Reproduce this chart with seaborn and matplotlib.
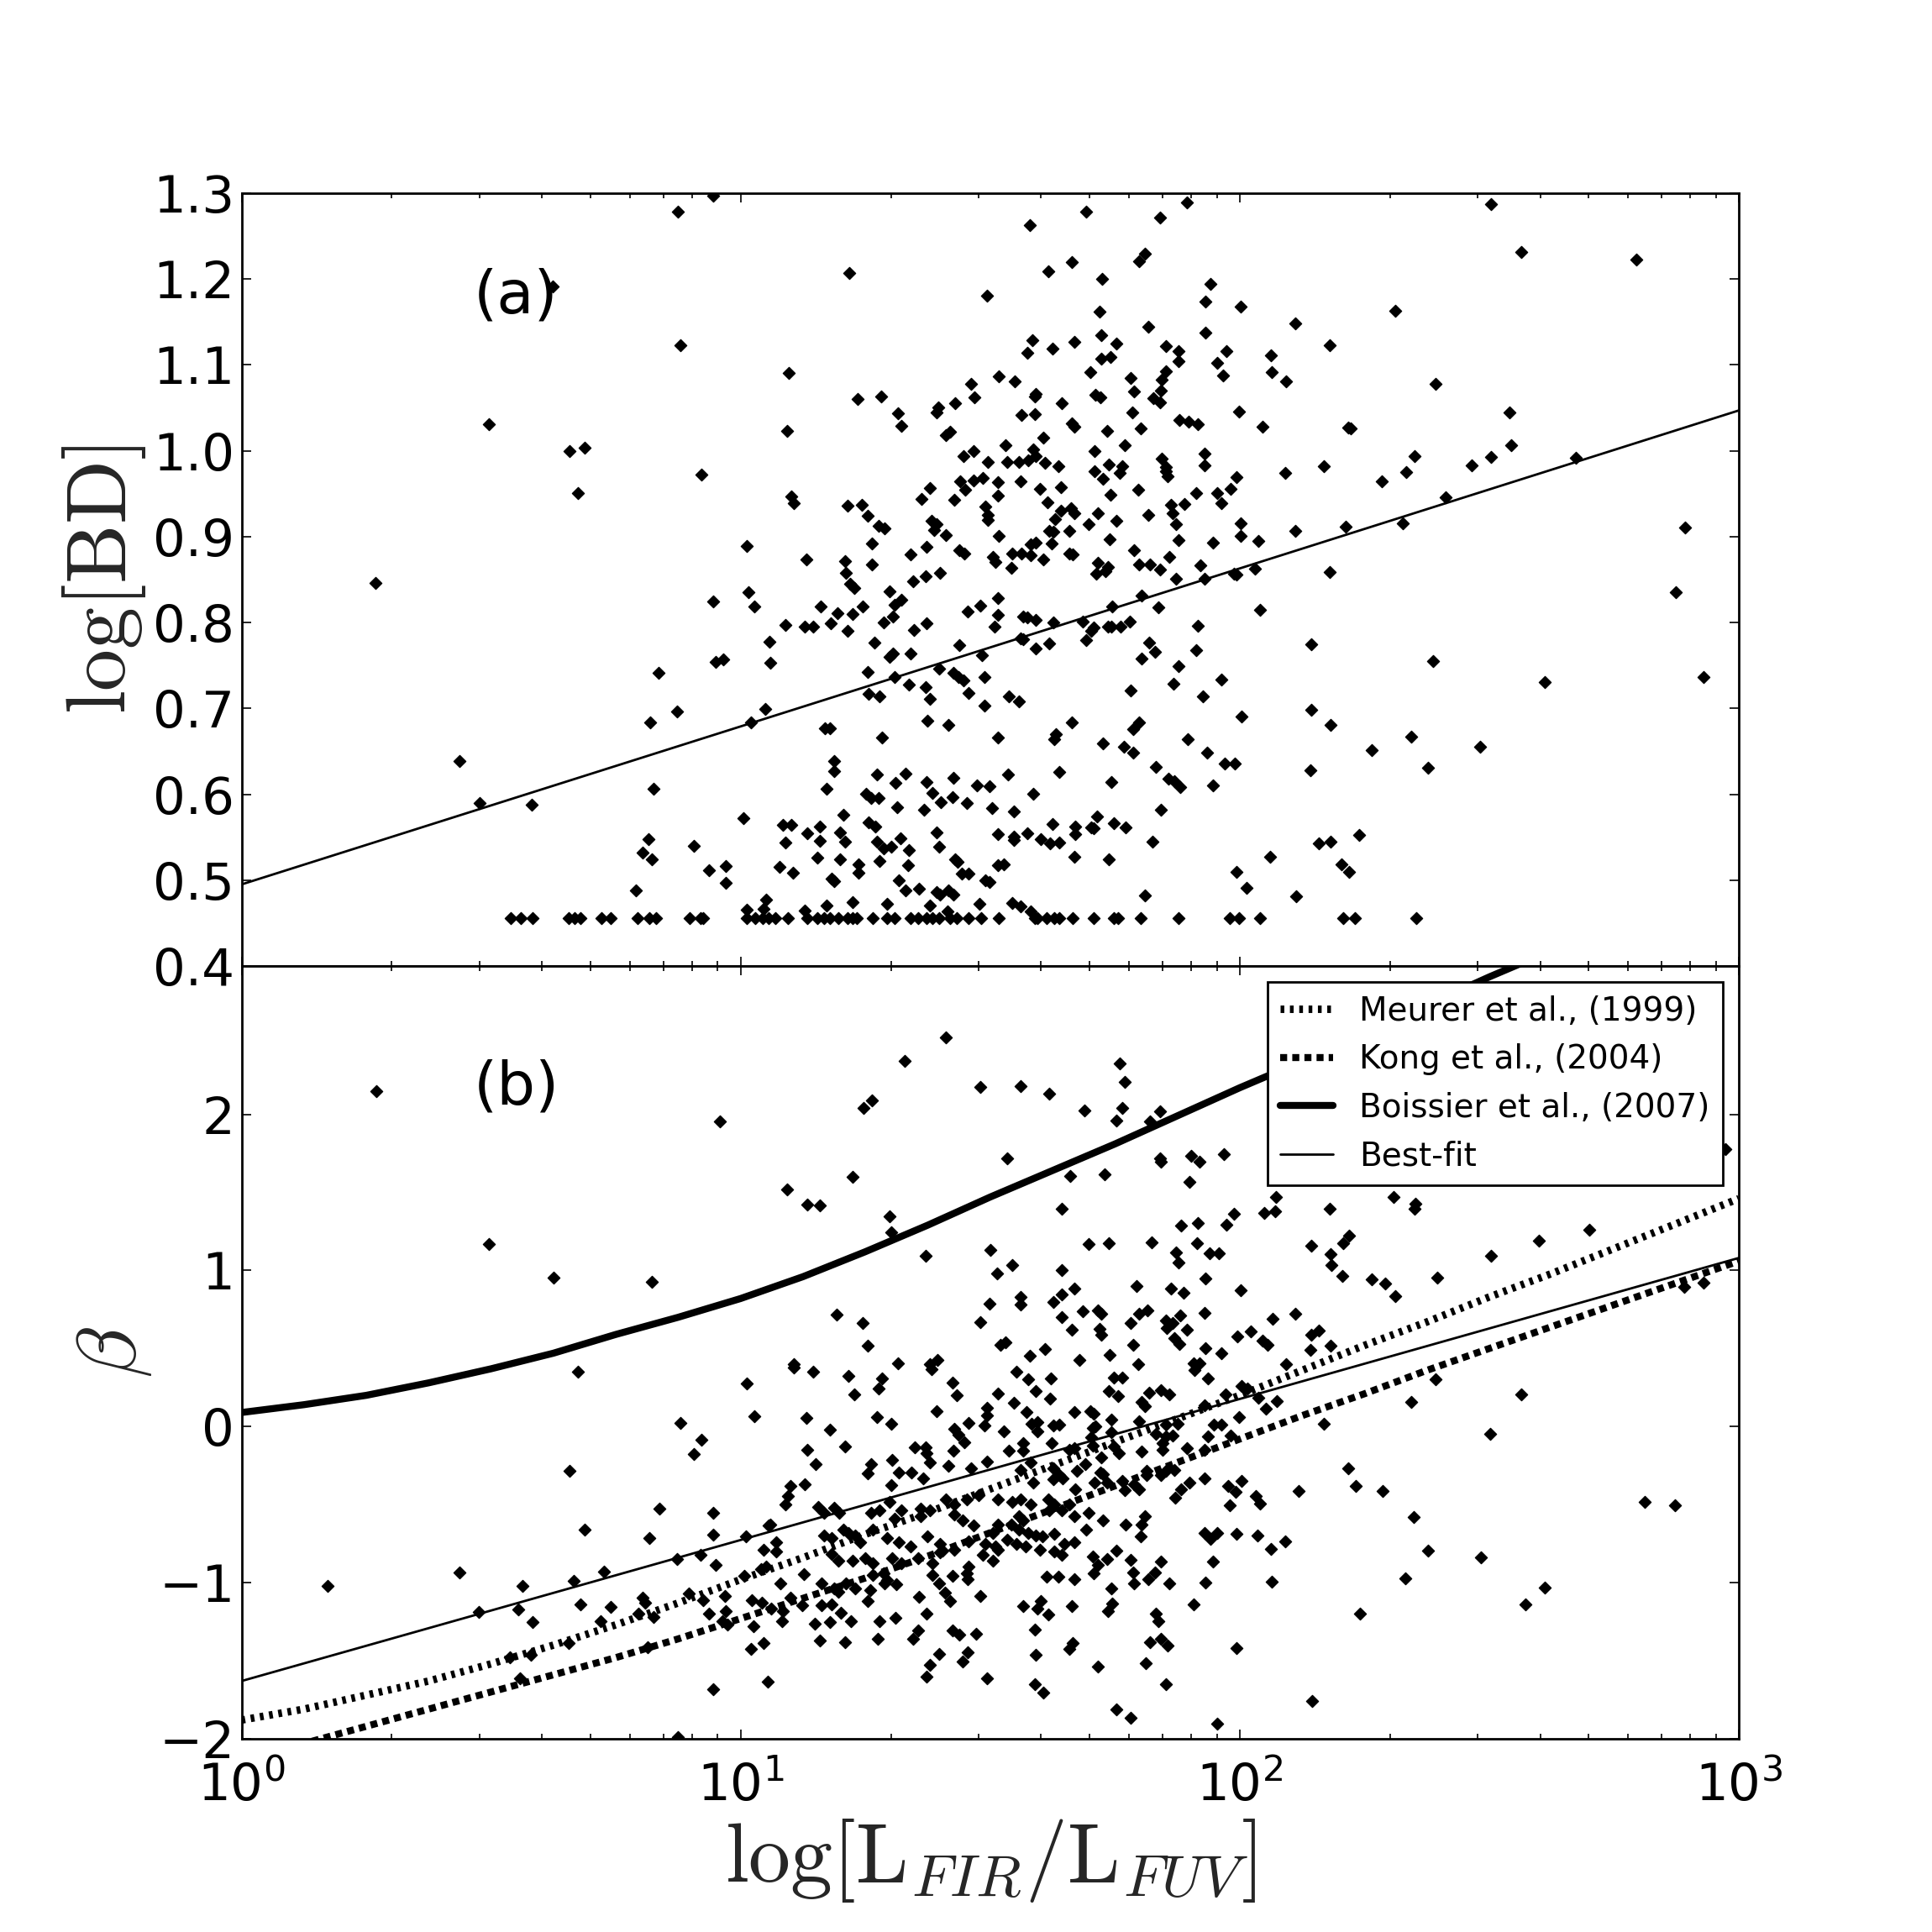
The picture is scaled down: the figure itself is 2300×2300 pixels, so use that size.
import numpy as np
import matplotlib
matplotlib.use('Agg')
import matplotlib.pyplot as plt
import seaborn as sns

# ---- panel (a): log[BD] vs log10(L_FIR/L_FUV) ----
bd_upper = [
    (0.875, 1.278), (0.945, 1.297), (1.217, 1.207), (1.494, 1.181), (0.624, 1.191), (0.880, 1.123),
    (1.096, 1.091), (1.517, 1.087), (1.462, 1.078), (1.469, 1.062), (1.235, 1.060), (1.282, 1.063),
    (1.430, 1.055), (1.396, 1.051), (1.392, 1.045), (1.316, 1.044), (1.322, 1.029), (1.419, 1.022),
    (1.411, 1.018), (0.495, 1.031), (1.093, 1.023), (0.657, 1.000), (0.688, 1.004), (1.467, 1.000),
    (1.446, 0.994), (1.496, 0.987), (0.921, 0.972), (0.674, 0.951), (1.101, 0.947), (1.106, 0.939),
    (1.214, 0.936), (1.243, 0.937), (1.254, 0.924), (1.276, 0.913), (1.288, 0.910), (1.380, 0.957),
    (1.362, 0.944), (1.440, 0.964), (1.450, 0.955), (1.428, 0.943), (1.467, 0.965), (1.485, 0.968),
    (1.515, 0.963), (1.515, 0.948), (1.491, 0.935), (1.496, 0.925), (1.496, 0.919), (1.382, 0.918),
    (1.392, 0.915), (1.387, 0.908), (1.412, 0.902), (1.517, 0.901), (1.013, 0.889), (1.263, 0.892),
    (1.373, 0.888), (1.438, 0.884), (1.448, 0.880), (1.506, 0.876), (1.511, 0.871), (1.131, 0.873),
    (1.209, 0.872), (1.263, 0.868), (1.341, 0.879), (1.211, 0.858), (1.370, 0.854), (1.399, 0.858),
    (1.346, 0.848), (1.220, 0.845), (0.268, 0.846),
    (1.895, 1.289), (1.693, 1.278), (1.841, 1.272), (1.579, 1.263), (2.503, 1.287), (2.564, 1.232),
    (2.794, 1.223), (1.663, 1.220), (1.799, 1.221), (1.810, 1.230), (1.616, 1.209), (1.725, 1.200),
    (1.942, 1.194), (1.932, 1.174), (2.002, 1.168), (2.311, 1.163), (1.720, 1.162), (1.816, 1.144),
    (2.112, 1.148), (1.932, 1.138), (1.723, 1.135), (1.584, 1.129), (1.668, 1.127), (1.753, 1.125),
    (1.625, 1.119), (1.575, 1.114), (2.180, 1.123), (1.853, 1.122), (1.878, 1.116), (1.974, 1.116),
    (1.722, 1.107), (1.741, 1.109), (1.878, 1.104), (1.954, 1.102), (2.063, 1.111), (1.700, 1.092),
    (1.852, 1.093), (2.065, 1.092), (1.966, 1.088), (2.093, 1.081), (1.782, 1.085), (1.843, 1.083),
    (1.549, 1.081), (1.789, 1.069), (1.842, 1.070), (1.711, 1.065), (1.721, 1.062), (1.592, 1.066),
    (1.590, 1.063), (1.827, 1.061), (1.840, 1.056), (1.644, 1.055), (2.393, 1.078), (1.785, 1.045),
    (1.563, 1.042), (1.590, 1.043), (1.999, 1.046), (2.540, 1.045), (1.879, 1.036), (1.897, 1.034),
    (1.916, 1.031), (1.663, 1.032), (1.668, 1.028), (1.802, 1.026), (2.045, 1.028), (2.217, 1.027),
    (2.223, 1.026), (1.735, 1.023), (1.607, 1.015), (1.531, 1.007), (1.770, 1.007), (2.544, 1.007),
    (1.587, 1.002), (1.592, 0.994), (1.709, 1.000), (1.929, 0.997), (1.844, 0.991), (1.534, 0.987),
    (1.557, 0.987), (1.576, 0.989), (1.610, 0.986), (1.637, 0.982), (1.737, 0.984), (1.764, 0.982),
    (1.929, 0.983), (1.852, 0.981), (1.709, 0.976), (1.759, 0.974), (1.853, 0.976), (1.855, 0.970),
    (2.169, 0.982), (2.092, 0.974), (2.503, 0.993), (2.351, 0.994), (2.464, 0.983), (2.333, 0.975),
    (2.673, 0.992), (1.726, 0.967), (1.994, 0.969), (1.561, 0.964), (1.600, 0.956), (1.642, 0.958),
    (1.797, 0.955), (2.285, 0.964), (1.741, 0.949), (1.913, 0.951), (1.955, 0.951), (1.982, 0.956),
    (2.413, 0.946), (1.615, 0.940), (1.889, 0.938), (1.964, 0.939), (1.863, 0.937), (1.662, 0.933),
    (1.668, 0.927), (1.642, 0.930), (1.716, 0.927), (1.816, 0.925), (1.865, 0.927), (1.630, 0.920),
    (1.697, 0.915), (1.753, 0.918), (1.873, 0.915), (2.002, 0.916), (2.326, 0.916), (2.212, 0.912),
    (1.619, 0.907), (1.627, 0.906), (1.659, 0.907), (2.112, 0.907), (2.893, 0.911), (1.740, 0.897),
    (1.877, 0.896), (2.002, 0.901), (2.038, 0.895), (1.946, 0.893), (1.623, 0.892), (1.581, 0.891),
    (1.592, 0.893), (1.789, 0.884), (1.545, 0.880), (1.562, 0.880), (1.582, 0.878), (1.607, 0.873),
    (1.659, 0.880), (1.666, 0.879), (1.859, 0.876), (1.542, 0.864), (1.716, 0.870), (1.736, 0.865),
    (1.799, 0.868), (1.821, 0.868), (1.841, 0.862), (1.921, 0.867), (1.712, 0.857), (1.731, 0.860),
    (1.872, 0.851), (1.929, 0.851), (1.988, 0.857), (1.994, 0.856), (2.030, 0.863), (2.181, 0.859),
]

bd_lower = [
    (0.945, 0.825), (1.016, 0.835), (1.027, 0.819), (1.160, 0.819), (1.194, 0.811), (1.224, 0.810),
    (1.227, 0.840), (1.245, 0.819), (1.298, 0.836), (1.322, 0.827), (1.309, 0.821), (1.306, 0.807),
    (1.286, 0.800), (1.373, 0.799), (1.348, 0.791), (1.455, 0.813), (1.480, 0.820), (1.515, 0.828),
    (1.515, 0.809), (1.508, 0.795), (1.089, 0.797), (1.129, 0.795), (1.146, 0.795), (1.180, 0.799),
    (1.214, 0.790), (1.057, 0.778), (1.269, 0.777), (1.438, 0.774), (1.298, 0.760), (1.305, 0.764),
    (1.341, 0.764), (1.484, 0.762), (0.950, 0.754), (0.966, 0.757), (1.059, 0.753), (0.836, 0.741),
    (1.255, 0.742), (1.308, 0.737), (1.397, 0.746), (1.427, 0.741), (1.436, 0.737), (1.446, 0.733),
    (1.488, 0.737), (1.338, 0.728), (1.256, 0.717), (1.278, 0.714), (1.370, 0.725), (1.380, 0.711),
    (1.457, 0.718), (1.488, 0.703), (1.050, 0.699), (0.872, 0.696), (0.818, 0.684), (1.020, 0.684),
    (1.375, 0.686), (1.417, 0.681), (1.169, 0.677), (1.179, 0.677), (1.284, 0.666), (1.515, 0.666),
    (0.436, 0.639), (1.188, 0.639), (1.188, 0.627), (1.274, 0.623), (1.330, 0.624), (1.427, 0.619),
    (1.311, 0.613), (1.373, 0.614), (1.473, 0.610), (1.498, 0.609), (0.825, 0.606), (1.173, 0.606),
    (1.252, 0.601), (1.261, 0.596), (1.277, 0.596), (1.384, 0.602), (1.424, 0.597), (0.477, 0.590),
    (0.581, 0.588), (1.401, 0.591), (1.453, 0.590), (1.314, 0.585), (1.504, 0.584), (1.368, 0.582),
    (1.206, 0.576), (1.005, 0.572), (1.256, 0.567), (1.270, 0.562), (1.084, 0.564), (1.102, 0.564),
    (1.158, 0.562), (1.134, 0.555), (1.200, 0.556), (1.392, 0.556), (1.515, 0.554), (0.815, 0.548),
    (1.158, 0.546), (1.274, 0.545), (1.321, 0.549), (1.089, 0.544), (1.209, 0.545), (0.907, 0.540),
    (1.287, 0.537), (1.301, 0.539), (1.397, 0.539), (1.338, 0.535), (0.804, 0.532), (0.823, 0.524),
    (1.153, 0.526), (1.199, 0.524), (1.279, 0.522), (1.430, 0.524), (1.435, 0.521), (1.237, 0.518),
    (1.335, 0.517), (1.515, 0.517), (0.971, 0.516), (1.078, 0.515), (0.936, 0.512), (1.237, 0.509),
    (1.105, 0.509), (1.443, 0.508), (1.457, 0.508), (1.182, 0.502), (1.188, 0.499), (1.491, 0.500),
    (1.498, 0.498), (0.971, 0.497), (1.317, 0.500), (0.790, 0.488), (1.330, 0.488), (1.358, 0.490),
    (1.392, 0.486), (1.399, 0.483), (1.416, 0.488), (1.427, 0.483), (1.051, 0.477), (1.046, 0.467),
    (1.013, 0.466), (1.173, 0.470), (1.225, 0.474), (1.293, 0.472), (1.380, 0.470), (1.478, 0.472),
    (1.129, 0.465), (1.414, 0.464),
    (1.803, 0.831), (1.745, 0.819), (1.837, 0.818), (2.040, 0.815), (2.873, 0.835), (1.566, 0.807),
    (1.574, 0.806), (1.592, 0.803), (1.626, 0.800), (1.685, 0.801), (1.707, 0.794), (1.702, 0.790),
    (1.736, 0.795), (1.743, 0.795), (1.762, 0.795), (1.780, 0.801), (1.916, 0.796), (1.561, 0.782),
    (1.566, 0.781), (1.693, 0.780), (1.619, 0.776), (1.591, 0.770), (1.818, 0.777), (2.144, 0.775),
    (1.830, 0.766), (1.912, 0.768), (1.803, 0.758), (2.387, 0.755), (1.878, 0.749), (1.963, 0.734),
    (2.612, 0.731), (2.930, 0.737), (1.868, 0.729), (1.782, 0.721), (1.537, 0.714), (1.557, 0.708),
    (1.927, 0.714), (2.144, 0.698), (2.003, 0.691), (1.663, 0.684), (1.799, 0.684), (1.787, 0.676),
    (2.182, 0.681), (1.632, 0.670), (1.628, 0.664), (1.896, 0.664), (2.344, 0.667), (2.482, 0.655),
    (1.726, 0.659), (1.768, 0.655), (1.787, 0.648), (2.264, 0.651), (1.935, 0.648), (1.970, 0.636),
    (1.991, 0.636), (1.832, 0.632), (2.142, 0.628), (2.378, 0.631), (1.536, 0.623), (1.639, 0.626),
    (1.743, 0.614), (1.858, 0.618), (1.869, 0.615), (1.881, 0.608), (1.946, 0.610), (1.587, 0.601),
    (1.548, 0.580), (1.842, 0.582), (1.714, 0.574), (1.625, 0.565), (1.671, 0.562), (1.703, 0.561),
    (1.707, 0.560), (1.747, 0.566), (1.771, 0.561), (1.548, 0.551), (1.548, 0.547), (1.575, 0.555),
    (1.602, 0.548), (1.620, 0.543), (1.639, 0.544), (1.670, 0.554), (1.825, 0.545), (2.240, 0.553),
    (2.159, 0.543), (2.182, 0.545), (1.527, 0.518), (1.668, 0.527), (1.737, 0.524), (2.061, 0.527),
    (2.204, 0.518), (2.219, 0.510), (1.993, 0.510), (2.014, 0.491), (2.113, 0.481), (1.810, 0.482),
    (1.544, 0.473), (1.561, 0.469), (1.581, 0.464),
]

# the row of objects sitting on the lower limit of log[BD]
bd_floor_logx = [
    0.539, 0.560, 0.584, 0.655, 0.667, 0.679, 0.722, 0.739, 0.793, 0.817, 0.831, 0.898, 0.920,
    0.925, 1.013, 1.029, 1.044, 1.056, 1.069, 1.095, 1.133, 1.153, 1.167, 1.179, 1.196, 1.214,
    1.225, 1.233, 1.264, 1.293, 1.308, 1.341, 1.356, 1.372, 1.385, 1.397, 1.419, 1.433, 1.457,
    1.482, 1.517, 1.589, 1.595, 1.613, 1.629, 1.639, 1.666, 1.707, 1.748, 1.756, 1.802, 1.878,
    1.980, 1.999, 2.040, 2.208, 2.231, 2.354,
]
bd_floor_val = 0.456

# ---- panel (b): UV slope beta ----
beta_upper = [
    (0.270, 2.146), (1.412, 2.493), (1.328, 2.344), (1.481, 2.177), (1.263, 2.087), (1.246, 2.042),
    (0.959, 1.955), (1.224, 1.599), (1.093, 1.519), (1.133, 1.420), (1.159, 1.414), (1.298, 1.348),
    (1.301, 1.246), (1.501, 1.133), (1.370, 1.093), (0.495, 1.169), (0.625, 0.953), (0.823, 0.926),
    (1.514, 0.980), (1.498, 0.788), (1.193, 0.717), (1.244, 0.663), (1.481, 0.670), (1.255, 0.517),
    (1.520, 0.526), (1.316, 0.406), (1.395, 0.424), (1.380, 0.397), (1.107, 0.397),
    (1.760, 2.326), (1.770, 2.209), (1.561, 2.182), (1.619, 2.132), (1.689, 2.024), (1.765, 2.039),
    (1.753, 1.958), (1.821, 1.953), (1.840, 2.021), (1.534, 1.719), (1.840, 1.716), (1.842, 1.698),
    (1.902, 1.734), (1.919, 1.698), (1.969, 1.743), (1.661, 1.605), (1.729, 1.617), (1.900, 1.567),
    (2.587, 1.590), (2.973, 1.779), (1.644, 1.397), (2.072, 1.470), (2.308, 1.470), (2.352, 1.429),
    (2.351, 1.397), (2.180, 1.393), (2.049, 1.370), (2.071, 1.379), (1.989, 1.361), (1.973, 1.294),
    (1.882, 1.285), (1.916, 1.303), (1.697, 1.169), (1.737, 1.174), (1.824, 1.181), (1.915, 1.172),
    (1.873, 1.115), (1.878, 1.052), (1.939, 1.109), (1.959, 1.109), (2.143, 1.160), (2.219, 1.222),
    (2.207, 1.172), (2.182, 1.106), (2.183, 1.034), (2.700, 1.262), (2.600, 1.192), (2.504, 1.092),
    (1.544, 1.034), (1.643, 1.002), (1.932, 0.951), (2.206, 0.962), (2.265, 0.941), (2.292, 0.918),
    (2.396, 0.953), (2.311, 0.833), (1.793, 0.900), (1.863, 0.882), (1.888, 0.858), (2.002, 0.873),
    (1.561, 0.828), (1.561, 0.779), (1.643, 0.844), (1.668, 0.882), (1.626, 0.797), (2.891, 0.896),
    (2.930, 0.923), (1.643, 0.702), (1.685, 0.738), (1.716, 0.742), (1.722, 0.720), (1.799, 0.724),
    (1.815, 0.743), (1.929, 0.726), (2.112, 0.724), (2.066, 0.690), (1.781, 0.666), (1.852, 0.679),
    (1.866, 0.661), (1.881, 0.711), (1.663, 0.618), (1.720, 0.625), (1.722, 0.586), (1.854, 0.631),
    (1.894, 0.618), (2.022, 0.607), (1.995, 0.577), (2.144, 0.586), (2.158, 0.613), (1.531, 0.541),
    (1.869, 0.568), (1.879, 0.528), (2.045, 0.550), (2.055, 0.523), (1.786, 0.523), (2.182, 0.519),
    (1.610, 0.496), (1.579, 0.451), (1.740, 0.460), (1.931, 0.500), (1.963, 0.469), (2.142, 0.491),
    (1.678, 0.424), (1.797, 0.401), (1.908, 0.406), (1.919, 0.406), (2.093, 0.397),
]

beta_lower = [
    (0.674, 0.352), (1.013, 0.275), (1.027, 0.065), (1.131, 0.056), (1.146, 0.352), (1.107, 0.379),
    (1.216, 0.325), (1.283, 0.307), (1.277, 0.244), (1.228, 0.205), (1.382, 0.370), (1.424, 0.280),
    (1.433, 0.200), (1.393, 0.096), (1.493, 0.119), (1.493, 0.074), (1.515, 0.209), (1.274, 0.060),
    (1.301, 0.020), (1.457, 0.024), (1.488, 0.006), (0.880, 0.024), (0.921, -0.084), (0.906, -0.177),
    (1.179, -0.019), (1.209, -0.127), (1.134, -0.150), (1.150, -0.240), (1.428, -0.016), (1.436, -0.052),
    (1.448, -0.102), (1.349, -0.132), (1.370, -0.132), (1.373, -0.168), (1.426, -0.156), (1.380, -0.231),
    (1.417, -0.249), (1.462, -0.267), (1.493, -0.227), (1.303, -0.213), (1.261, -0.240), (1.254, -0.299),
    (1.317, -0.294), (1.343, -0.294), (1.366, -0.330), (1.301, -0.375), (1.128, -0.371), (1.100, -0.383),
    (0.657, -0.285), (1.095, -0.446), (1.090, -0.497), (0.837, -0.527), (0.945, -0.550), (1.155, -0.514),
    (1.187, -0.518), (1.298, -0.482), (1.322, -0.536), (1.361, -0.527), (1.380, -0.536), (1.412, -0.464),
    (1.428, -0.500), (1.454, -0.464), (1.477, -0.437), (1.515, -0.464), (1.059, -0.626), (1.167, -0.554),
    (1.198, -0.554), (1.261, -0.554), (1.279, -0.536), (1.308, -0.590), (1.361, -0.572), (1.428, -0.563),
    (1.445, -0.599), (1.467, -0.635), (1.506, -0.680), (0.687, -0.662), (0.817, -0.712), (0.945, -0.694),
    (1.011, -0.706), (1.167, -0.697), (1.182, -0.715), (1.206, -0.662), (1.230, -0.697), (1.216, -0.680),
    (1.240, -0.742), (1.264, -0.662), (1.293, -0.715), (1.317, -0.742), (1.341, -0.769), (1.375, -0.706),
    (1.399, -0.751), (1.404, -0.796), (1.428, -0.787), (1.457, -0.733), (1.491, -0.751), (1.511, -0.769),
    (1.046, -0.787), (1.071, -0.742), (1.071, -0.802), (0.919, -0.819), (0.950, -0.886), (0.873, -0.846),
    (1.182, -0.814), (1.196, -0.859), (1.225, -0.859), (1.249, -0.841), (1.264, -0.877), (1.303, -0.841),
    (1.322, -0.877), (1.356, -0.841), (1.385, -0.877), (1.399, -0.805), (1.457, -0.895), (1.506, -0.859),
    (1.486, -0.823), (1.515, -0.787), (1.041, -0.913), (1.051, -0.895), (1.008, -0.958), (1.127, -0.945),
    (1.080, -1.002), (1.162, -1.002), (1.187, -1.038), (1.211, -1.002), (1.230, -1.038), (1.264, -0.949),
    (1.286, -0.940), (1.293, -0.985), (1.312, -1.011), (1.385, -0.949), (1.397, -1.002), (1.424, -0.958),
    (1.455, -0.976), (1.453, -0.940), (0.726, -0.927), (0.665, -0.988), (0.437, -0.936), (0.173, -1.020),
    (0.563, -1.020), (0.476, -1.185), (0.555, -1.173), (0.584, -1.250), (0.679, -1.137), (0.739, -1.155),
    (0.720, -1.245), (0.803, -1.096), (0.809, -1.128), (0.795, -1.196), (0.825, -1.218), (0.896, -1.071),
    (0.925, -1.110), (0.969, -1.083), (0.971, -1.182), (0.936, -1.200), (0.964, -1.245), (0.974, -1.268),
    (1.022, -1.110), (1.043, -1.128), (1.061, -1.164), (1.085, -1.182), (1.100, -1.098), (1.124, -1.146),
    (1.162, -1.146), (1.182, -1.137), (1.196, -1.056), (1.201, -1.191), (1.254, -1.119), (1.259, -1.047),
    (1.288, -1.002), (1.358, -1.092), (1.409, -1.065), (1.419, -1.119), (1.481, -1.083), (1.373, -1.200),
    (1.310, -1.227), (1.279, -1.245), (1.221, -1.245), (1.179, -1.254), (1.148, -1.263), (1.083, -1.245),
    (1.025, -1.280), (1.158, -1.370), (1.209, -1.379), (1.275, -1.361), (1.346, -1.361), (1.356, -1.307),
    (1.424, -1.307), (1.438, -1.334), (1.472, -1.325), (1.046, -1.388), (1.020, -1.424), (0.814, -1.415),
    (0.655, -1.388), (0.537, -1.478), (0.580, -1.460), (1.397, -1.455), (1.455, -1.447), (1.380, -1.526),
    (1.445, -1.505), (1.373, -1.603), (1.493, -1.612), (0.558, -1.612), (1.055, -1.636), (0.945, -1.684),
    (0.875, -1.989), (1.056, -0.634), (1.515, -0.626),
    (1.552, 0.352), (1.576, 0.304), (1.622, 0.307), (1.592, 0.227), (1.620, 0.178), (1.747, 0.316),
    (1.765, 0.316), (1.737, 0.227), (1.757, 0.194), (1.818, 0.218), (1.842, 0.232), (1.859, 0.205),
    (1.910, 0.361), (1.936, 0.307), (1.803, 0.160), (1.810, 0.128), (1.547, 0.151), (1.573, 0.092),
    (1.668, 0.092), (1.700, 0.096), (1.707, 0.083), (1.743, 0.047), (1.798, 0.033), (1.583, 0.020),
    (1.595, 0.029), (1.627, 0.006), (1.639, 0.011), (1.705, -0.007), (1.711, 0.002), (1.528, -0.030),
    (1.595, -0.030), (1.743, -0.037), (1.832, -0.048), (1.852, 0.011), (1.876, 0.015), (1.948, 0.011),
    (1.963, 0.011), (1.999, 0.060), (1.971, 0.205), (2.003, 0.262), (2.016, 0.244), (2.037, 0.182),
    (2.052, 0.114), (2.074, 0.164), (1.929, 0.137), (2.169, 0.015), (2.343, 0.158), (2.393, 0.304),
    (2.564, 0.205), (2.502, -0.048), (1.624, -0.105), (1.566, -0.105), (1.537, -0.156), (1.566, -0.156),
    (1.702, -0.066), (1.705, -0.123), (1.747, -0.127), (1.845, -0.105), (1.852, -0.061), (1.866, -0.055),
    (1.895, -0.141), (1.936, -0.061), (1.981, -0.055), (1.803, -0.159), (1.845, -0.150), (1.929, -0.150),
    (1.658, -0.150), (1.668, -0.141), (1.723, -0.195), (1.758, -0.168), (1.581, -0.231), (1.561, -0.276),
    (1.627, -0.267), (1.639, -0.312), (1.673, -0.285), (1.690, -0.240), (1.721, -0.294), (1.726, -0.303),
    (1.813, -0.285), (1.853, -0.285), (1.869, -0.276), (1.842, -0.308), (1.813, -0.312), (1.586, -0.357),
    (1.627, -0.339), (1.646, -0.330), (1.670, -0.401), (1.709, -0.357), (1.734, -0.360), (1.765, -0.348),
    (1.789, -0.371), (1.798, -0.401), (1.769, -0.410), (1.900, -0.357), (1.929, -0.330), (1.977, -0.383),
    (2.003, -0.348), (1.992, -0.419), (1.871, -0.455), (1.883, -0.401), (2.118, -0.414), (2.217, -0.267),
    (2.232, -0.383), (2.286, -0.414), (2.032, -0.446), (2.040, -0.491), (1.980, -0.505), (1.544, -0.482),
    (1.561, -0.464), (1.581, -0.500), (1.617, -0.464), (1.629, -0.500), (1.658, -0.500), (1.618, -0.536),
    (1.644, -0.536), (1.668, -0.572), (1.697, -0.554), (1.810, -0.572), (1.803, -0.626), (1.726, -0.599),
    (1.772, -0.629), (1.801, -0.706), (1.692, -0.662), (1.557, -0.572), (1.566, -0.599), (1.542, -0.626),
    (1.557, -0.662), (1.576, -0.680), (1.591, -0.697), (1.605, -0.706), (1.629, -0.688), (1.534, -0.724),
    (1.552, -0.751), (1.571, -0.769), (1.600, -0.787), (1.629, -0.802), (1.644, -0.823), (1.668, -0.742),
    (1.649, -0.751), (1.929, -0.680), (1.942, -0.719), (1.955, -0.683), (1.993, -0.688), (2.035, -0.697),
    (2.091, -0.733), (2.062, -0.782), (1.753, -0.796), (1.705, -0.832), (1.716, -0.886), (1.735, -0.850),
    (1.782, -0.855), (1.842, -0.864), (1.946, -0.864), (2.348, -0.581), (2.378, -0.796), (2.483, -0.837),
    (2.812, -0.482), (2.872, -0.505), (1.613, -0.963), (1.637, -0.963), (1.668, -0.976), (1.707, -0.940),
    (1.787, -0.936), (1.789, -1.006), (1.816, -0.976), (1.830, -0.936), (1.859, -1.006), (1.932, -0.997),
    (2.064, -0.993), (2.332, -0.972), (2.612, -1.029), (1.742, -1.038), (1.566, -1.150), (1.602, -1.115),
    (1.595, -1.168), (1.616, -1.203), (1.663, -1.150), (1.736, -1.182), (1.745, -1.133), (1.832, -1.200),
    (1.837, -1.245), (1.908, -1.141), (2.241, -1.200), (2.573, -1.137), (1.590, -1.302), (1.666, -1.388),
    (1.658, -1.424), (1.821, -1.383), (1.842, -1.361), (1.856, -1.402), (1.994, -1.420), (1.591, -1.463),
    (1.716, -1.535), (1.812, -1.517), (1.590, -1.648), (1.607, -1.702), (1.852, -1.652), (2.145, -1.759),
    (1.753, -1.810), (1.781, -1.867), (1.954, -1.905),
]

# ---- relations (x given as log10 of the ratio) ----
curve_logx = [0.0, 0.125, 0.25, 0.375, 0.5, 0.625, 0.75, 0.875, 1.0, 1.125, 1.25, 1.375, 1.5,
              1.625, 1.75, 1.875, 2.0, 2.125, 2.25, 2.375, 2.5, 2.625, 2.75, 2.875, 3.0]
meurer_beta = [-1.88, -1.81, -1.72, -1.63, -1.52, -1.40, -1.27, -1.13, -0.98, -0.84, -0.69, -0.55,
               -0.40, -0.25, -0.10, 0.05, 0.20, 0.36, 0.52, 0.67, 0.83, 0.98, 1.14, 1.30, 1.46]
kong_beta = [-2.13, -2.03, -1.92, -1.81, -1.70, -1.59, -1.48, -1.36, -1.23, -1.10, -0.97, -0.83,
             -0.68, -0.53, -0.38, -0.23, -0.08, 0.07, 0.21, 0.36, 0.50, 0.64, 0.78, 0.92, 1.06]
boissier_beta = [0.09, 0.14, 0.20, 0.28, 0.37, 0.47, 0.59, 0.70, 0.82, 0.96, 1.12, 1.29, 1.47,
                 1.64, 1.81, 1.99, 2.17, 2.34, 2.52, 2.70, 2.88, 3.05, 3.23, 3.41, 3.60]

fit_logx = [0.0, 3.0]
fit_bd = [0.495, 1.047]
fit_beta = [-1.63, 1.08]

bd_ticks = [0.4, 0.5, 0.6, 0.7, 0.8, 0.9, 1.0, 1.1, 1.2, 1.3]
beta_ticks = [-2, -1, 0, 1, 2]

# ---- style ----
sns.set_style('ticks')
plt.rcParams.update({
    'font.family': ['DejaVu Sans'],
    'mathtext.fontset': 'cm',
    'lines.scale_dashes': False,
    'axes.edgecolor': 'black',
    'axes.linewidth': 1.0,
    'text.color': 'black',
    'xtick.color': 'black',
    'ytick.color': 'black',
    'xtick.direction': 'in',
    'ytick.direction': 'in',
    'xtick.top': True,
    'ytick.right': True,
    'xtick.major.size': 4,
    'ytick.major.size': 4,
    'xtick.minor.size': 2,
    'ytick.minor.size': 2,
    'xtick.major.width': 0.6,
    'ytick.major.width': 0.6,
    'xtick.minor.width': 0.6,
    'ytick.minor.width': 0.6,
    'xtick.major.pad': 10,
    'ytick.major.pad': 3,
})

fig, (ax1, ax2) = plt.subplots(2, 1, sharex=True, figsize=(11.5, 11.5), dpi=200)
fig.subplots_adjust(left=0.125, right=0.9, bottom=0.1, top=0.9, hspace=0)

pts_kw = dict(marker='D', s=13, color='black', edgecolor='black', linewidth=0.5, legend=False)

# panel (a)
bd_pts = np.array(bd_upper + bd_lower)
sns.scatterplot(x=10 ** bd_pts[:, 0], y=bd_pts[:, 1], ax=ax1, **pts_kw)
floor_x = 10 ** np.array(bd_floor_logx)
sns.scatterplot(x=floor_x, y=np.full(len(floor_x), bd_floor_val), ax=ax1, **pts_kw)
sns.lineplot(x=10 ** np.array(fit_logx), y=fit_bd, ax=ax1, color='black', lw=1.0,
             estimator=None, sort=False)

ax1.set_xscale('log')
ax1.set_xlim(1, 1000)
ax1.set_ylim(0.4, 1.3)
ax1.set_yticks(bd_ticks)
ax1.set_yticklabels([f'{t:.1f}' for t in bd_ticks])
ax1.set_ylabel(r'$\log[\mathrm{BD}]$', fontsize=36, labelpad=2)
ax1.text(0.155, 0.866, '(a)', transform=ax1.transAxes, fontsize=26, va='center', ha='left')

# panel (b)
beta_pts = np.array(beta_upper + beta_lower)
sns.scatterplot(x=10 ** beta_pts[:, 0], y=beta_pts[:, 1], ax=ax2, **pts_kw)

cx = 10 ** np.array(curve_logx)
sns.lineplot(x=cx, y=meurer_beta, ax=ax2, color='black', lw=3.2, linestyle=(0, (1.6, 2.4)),
             label='Meurer et al., (1999)', estimator=None, sort=False)
sns.lineplot(x=cx, y=kong_beta, ax=ax2, color='black', lw=3.0, linestyle=(0, (3.0, 2.2)),
             label='Kong et al., (2004)', estimator=None, sort=False)
sns.lineplot(x=cx, y=boissier_beta, ax=ax2, color='black', lw=3.0, linestyle='-',
             label='Boissier et al., (2007)', estimator=None, sort=False)
sns.lineplot(x=10 ** np.array(fit_logx), y=fit_beta, ax=ax2, color='black', lw=1.0,
             label='Best-fit', estimator=None, sort=False)

ax2.set_xscale('log')
ax2.set_xlim(1, 1000)
ax2.set_ylim(-2, 2.95)
ax2.set_yticks(beta_ticks)
ax2.set_ylabel(r'$\beta$', fontsize=36, labelpad=2)
ax2.set_xlabel(r'$\log[\mathrm{L}_{FIR}/\mathrm{L}_{FUV}]$', fontsize=36, labelpad=2)
ax2.text(0.155, 0.842, '(b)', transform=ax2.transAxes, fontsize=26, va='center', ha='left')

leg = ax2.legend(loc='upper right', fontsize=14, frameon=True, fancybox=False,
                 framealpha=1, edgecolor='black', borderaxespad=0.5, handlelength=1.6)
leg.get_frame().set_linewidth(1.0)

for ax in (ax1, ax2):
    ax.tick_params(axis='both', which='major', labelsize=22)

fig.savefig('out.png', dpi=200)
